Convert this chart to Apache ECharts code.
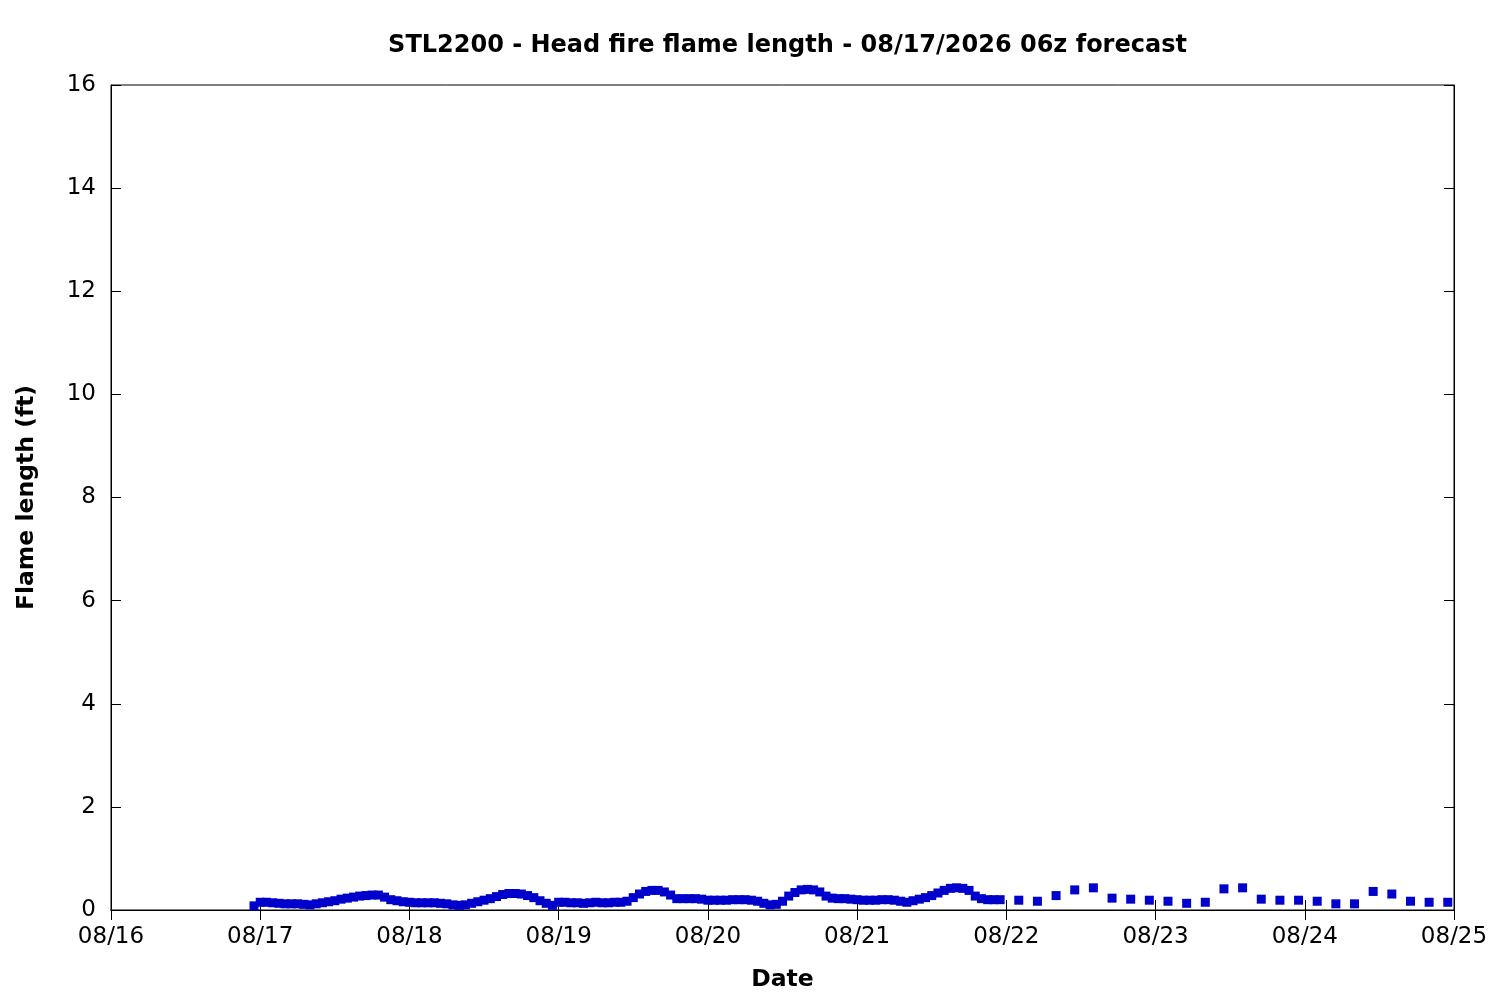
<!DOCTYPE html>
<html>
<head>
<meta charset="utf-8">
<script src="https://cdn.jsdelivr.net/npm/echarts@6/dist/echarts.min.js"></script>
<style>
html,body{margin:0;padding:0;background:#fff;}
#chart{width:1500px;height:1000px;}
</style>
</head>
<body>
<div id="chart"></div>
<script>
// ---- data ----
const titleText = 'STL2200 - Head fire flame length - 08/17/2026 06z forecast';
const xAxisName = 'Date';
const yAxisName = 'Flame length (ft)';
const xStart = '2026-08-16T00:00:00Z';
const xEnd = '2026-08-25T00:00:00Z';
const yTicks = [0, 2, 4, 6, 8, 10, 12, 14, 16];

// hourly forecast, starting 08/16 23:00
const hourlyStart = '2026-08-16T23:00:00Z';
const hourlyValues = [
  0.08,
  0.15, 0.15, 0.14, 0.13, 0.12, 0.12, 0.12, 0.11, 0.10, 0.12, 0.14, 0.16,
  0.18, 0.21, 0.23, 0.25, 0.27, 0.28, 0.29, 0.29, 0.25, 0.20, 0.18, 0.16,
  0.15, 0.14, 0.14, 0.14, 0.14, 0.13, 0.12, 0.10, 0.09, 0.10, 0.13, 0.16,
  0.19, 0.22, 0.26, 0.30, 0.32, 0.32, 0.31, 0.28, 0.24, 0.18, 0.13, 0.09,
  0.15, 0.15, 0.14, 0.14, 0.13, 0.14, 0.15, 0.14, 0.14, 0.15, 0.15, 0.17,
  0.24, 0.31, 0.36, 0.38, 0.38, 0.35, 0.29, 0.22, 0.22, 0.22, 0.22, 0.21,
  0.19, 0.19, 0.19, 0.19, 0.20, 0.20, 0.20, 0.19, 0.17, 0.13, 0.10, 0.11,
  0.17, 0.27, 0.34, 0.39, 0.40, 0.39, 0.35, 0.27, 0.23, 0.22, 0.22, 0.21,
  0.20, 0.19, 0.19, 0.19, 0.20, 0.20, 0.19, 0.17, 0.15, 0.18, 0.21, 0.24,
  0.28, 0.33, 0.38, 0.42, 0.43, 0.42, 0.38, 0.27, 0.22, 0.20, 0.20, 0.20
];
const hourlyStepHours = 1;

// 3-hourly forecast, starting 08/22 02:00
const threeHourlyStart = '2026-08-22T02:00:00Z';
const threeHourlyValues = [
  0.19, 0.17, 0.28, 0.39, 0.43, 0.23, 0.21, 0.19,
  0.17, 0.13, 0.15, 0.41, 0.43, 0.21, 0.19, 0.19,
  0.17, 0.12, 0.12, 0.36, 0.31, 0.17, 0.15, 0.15
];
const threeHourlyStepHours = 3;

// ---- build ----
const HOUR = 3600 * 1000;
const DAY = 24 * HOUR;
function toPairs(startIso, stepH, vals) {
  const t0 = Date.parse(startIso);
  return vals.map((v, i) => [t0 + i * stepH * HOUR, v]);
}
function fmtDate(v) {
  const d = new Date(v);
  const mm = String(d.getUTCMonth() + 1).padStart(2, '0');
  const dd = String(d.getUTCDate()).padStart(2, '0');
  return mm + '/' + dd;
}
const xMin = Date.parse(xStart);
const xMax = Date.parse(xEnd);
const yMin = yTicks[0];
const yMax = yTicks[yTicks.length - 1];
const yInt = yTicks[1] - yTicks[0];

const FONT = 'DejaVu Sans';
const axisLine = { show: true, lineStyle: { color: '#000', width: 1 } };
const tickIn = { show: true, inside: true, length: 10, lineStyle: { color: '#000', width: 1 } };
const markStyle = { color: '#0000cc', opacity: 1 };

const chart = echarts.init(document.getElementById('chart'), null, { renderer: 'canvas' });
chart.setOption({
  backgroundColor: '#fff',
  animation: false,
  title: {
    text: titleText,
    left: 782.5,
    textAlign: 'center',
    top: 29,
    textStyle: { fontFamily: FONT, fontWeight: 'bold', fontSize: 24, color: '#000' }
  },
  grid: {
    left: 111, right: 46, top: 85, bottom: 90,
    show: true, borderColor: '#000', borderWidth: 1, backgroundColor: 'transparent'
  },
  xAxis: [
    {
      type: 'value', min: xMin, max: xMax, interval: DAY,
      position: 'bottom',
      axisLine: axisLine, axisTick: tickIn, splitLine: { show: false },
      axisLabel: { formatter: fmtDate, fontFamily: FONT, fontSize: 23, color: '#000', margin: 16 },
      name: xAxisName, nameLocation: 'middle', nameGap: 58,
      nameTextStyle: { fontFamily: FONT, fontWeight: 'bold', fontSize: 23.5, color: '#000' }
    },
    {
      type: 'value', min: xMin, max: xMax, interval: DAY,
      position: 'top',
      axisLine: axisLine, axisTick: tickIn, splitLine: { show: false },
      axisLabel: { show: false }
    }
  ],
  yAxis: [
    {
      type: 'value', min: yMin, max: yMax, interval: yInt,
      position: 'left',
      axisLine: axisLine, axisTick: tickIn, splitLine: { show: false },
      axisLabel: { fontFamily: FONT, fontSize: 23, color: '#000', margin: 15 },
      name: yAxisName, nameLocation: 'middle', nameGap: 72, nameRotate: 90,
      nameTextStyle: { fontFamily: FONT, fontWeight: 'bold', fontSize: 23.5, color: '#000' }
    },
    {
      type: 'value', min: yMin, max: yMax, interval: yInt,
      position: 'right',
      axisLine: axisLine, axisTick: tickIn, splitLine: { show: false },
      axisLabel: { show: false }
    }
  ],
  series: [
    {
      type: 'scatter', xAxisIndex: 0, yAxisIndex: 0,
      symbol: 'rect', symbolSize: 9,
      itemStyle: markStyle,
      emphasis: { disabled: true },
      data: toPairs(hourlyStart, hourlyStepHours, hourlyValues)
    },
    {
      type: 'scatter', xAxisIndex: 0, yAxisIndex: 0,
      symbol: 'rect', symbolSize: 9,
      itemStyle: markStyle,
      emphasis: { disabled: true },
      data: toPairs(threeHourlyStart, threeHourlyStepHours, threeHourlyValues)
    }
  ]
});
</script>
</body>
</html>
